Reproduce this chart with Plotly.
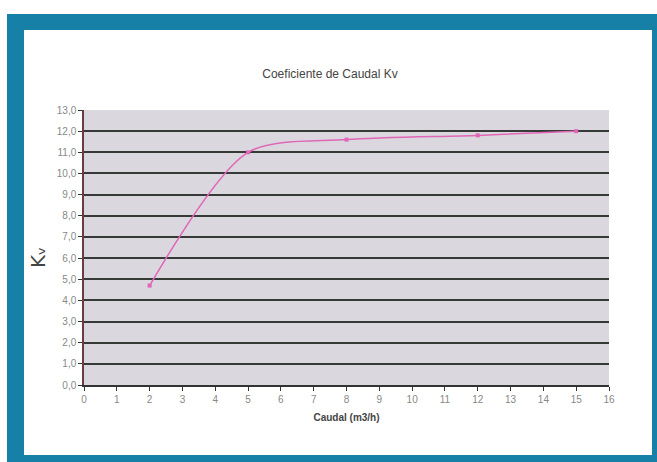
import plotly.graph_objects as go

caudal = [2, 5, 8, 12, 15]
kv = [4.7, 11.0, 11.6, 11.8, 12.0]
x_ticks = list(range(0, 17))
y_ticks = [i * 1.0 for i in range(0, 14)]

W, H = 657, 462
L, R, T, B = 84, 48, 110, 77
PW, PH = W - L - R, H - T - B

def px(x):
    return (x - L) / PW

def py(y):
    return 1 - (y - T) / PH

fig = go.Figure()
fig.add_trace(go.Scatter(
    x=caudal, y=kv, mode="lines+markers",
    line=dict(color="#e066b8", width=1.5, shape="spline", smoothing=0.8),
    marker=dict(symbol="square", size=4, color="#e066b8"),
    showlegend=False, hoverinfo="skip",
))

teal = "#1680a6"
frame = [
    (7, 14, 657, 30),
    (7, 14, 24, 462),
    (652, 14, 657, 462),
    (7, 455, 657, 462),
]
shapes = []
for x0, y0, x1, y1 in frame:
    shapes.append(dict(type="rect", xref="paper", yref="paper",
                       x0=px(x0), x1=px(x1), y0=py(y1), y1=py(y0),
                       fillcolor=teal, line=dict(width=0), layer="above"))

fig.update_layout(
    width=W, height=H,
    margin=dict(l=L, r=R, t=T, b=B, pad=0),
    paper_bgcolor="white",
    plot_bgcolor="#dad8de",
    separators=",.",
    font=dict(family="Liberation Sans, Arial, sans-serif", color="#777777", size=9),
    title=dict(text="Coeficiente de Caudal Kv", xref="container", x=330 / W,
               xanchor="center", y=1 - 74 / H, yanchor="middle",
               font=dict(size=12, color="#444444")),
    xaxis=dict(range=[0, 16], tickvals=x_ticks, ticks="outside", ticklen=4,
               tickcolor="#333333", showgrid=False, zeroline=False,
               showline=True, linecolor="#333333", linewidth=1.5,
               tickfont=dict(size=10, color="#888888"),
               title=dict(text="<b>Caudal (m3/h)</b>", standoff=10,
                          font=dict(size=10, color="#444444"))),
    yaxis=dict(range=[0, 13], tickvals=y_ticks, tickformat=".1f",
               ticks="outside", ticklen=4, tickcolor="#333333",
               showgrid=True, gridcolor="#353a36", gridwidth=2,
               zeroline=False, showline=True, linecolor="#6a3a40", linewidth=1.5,
               tickfont=dict(size=10, color="#888888")),
    shapes=shapes,
    annotations=[dict(text="K\u1d65", xref="paper", yref="paper",
                      x=px(38), y=py(258), xanchor="center", yanchor="middle",
                      textangle=-90, showarrow=False,
                      font=dict(family="DejaVu Sans, sans-serif", size=20, color="#444444"))],
)

fig.write_html("out.html")
